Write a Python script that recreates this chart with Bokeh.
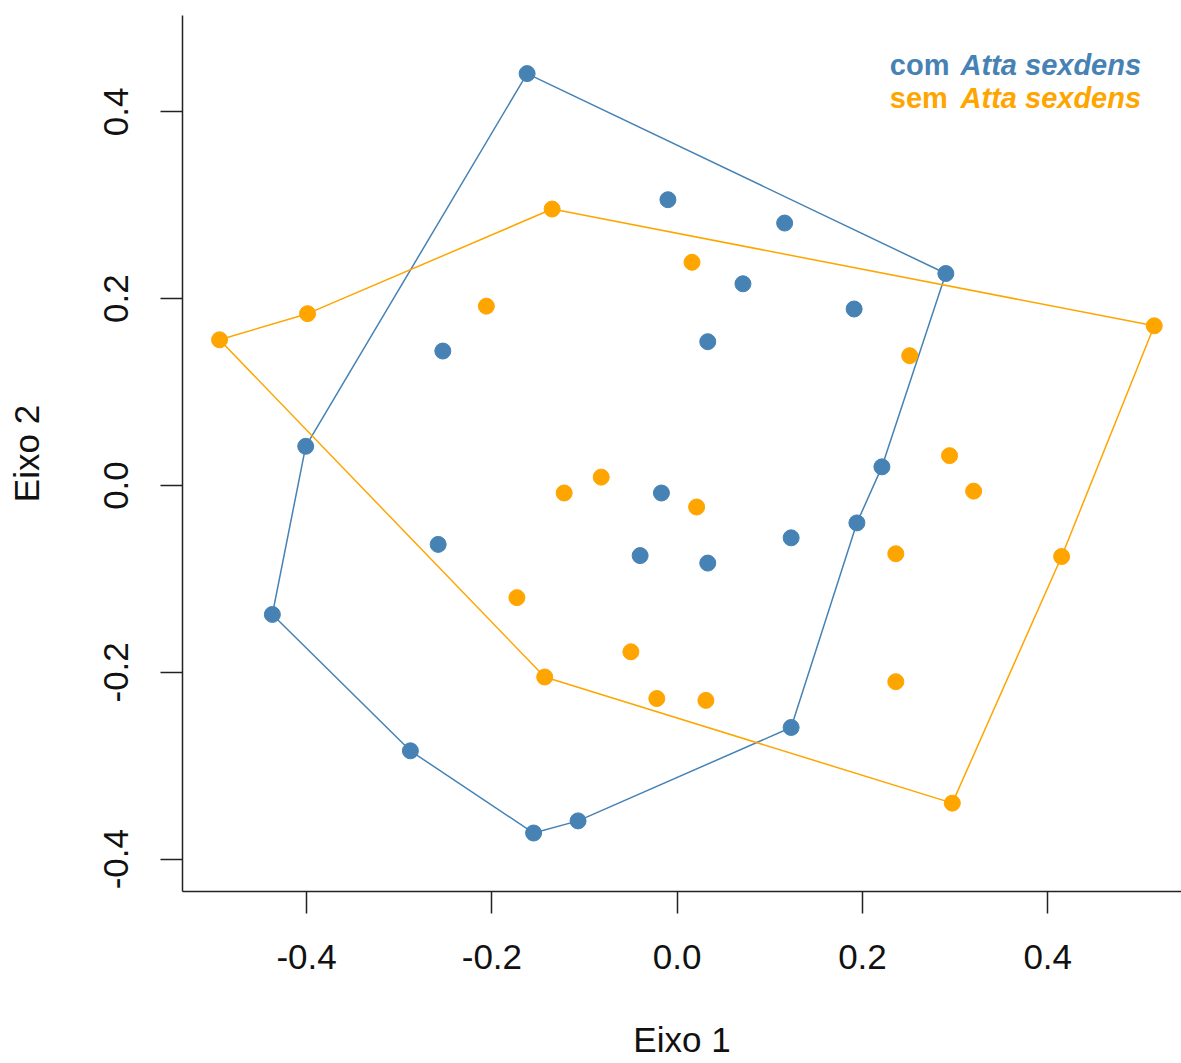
from bokeh.plotting import figure
from bokeh.models import Range1d, FixedTicker, PrintfTickFormatter, Label
from bokeh.embed import file_html
from bokeh.resources import INLINE

# Ordination scores (Eixo 1, Eixo 2) of the plots with Atta sexdens
com_x = [-0.162, -0.010, 0.116, 0.290, 0.071, 0.191, 0.033, -0.253, -0.401, 0.221,
         -0.017, 0.194, -0.258, 0.123, -0.040, 0.033, -0.437, 0.123, -0.288, -0.107,
         -0.155]
com_y = [0.441, 0.306, 0.281, 0.227, 0.216, 0.189, 0.154, 0.144, 0.042, 0.020,
         -0.008, -0.040, -0.063, -0.056, -0.075, -0.083, -0.138, -0.259, -0.284, -0.359,
         -0.372]

# Ordination scores of the plots without Atta sexdens
sem_x = [-0.494, -0.399, -0.206, -0.135, 0.016, 0.515, 0.251, 0.294, 0.320, -0.122,
         -0.082, 0.021, 0.236, 0.415, -0.173, -0.050, -0.143, 0.236, -0.022, 0.031,
         0.297]
sem_y = [0.156, 0.184, 0.192, 0.296, 0.239, 0.171, 0.139, 0.032, -0.006, -0.008,
         0.009, -0.023, -0.073, -0.076, -0.120, -0.178, -0.205, -0.210, -0.228, -0.230,
         -0.340]

# Convex hull vertices of each group (indices into the score lists, in drawing order)
com_hull = [0, 3, 9, 11, 17, 19, 20, 18, 16, 8]
sem_hull = [3, 5, 13, 20, 16, 0, 1]

x_ticks = [-0.4, -0.2, 0.0, 0.2, 0.4]
y_ticks = [-0.4, -0.2, 0.0, 0.2, 0.4]

BLUE = "#4682B4"
ORANGE = "#FFA500"
FONT = "Liberation Sans"

p = figure(width=1181, height=1063,
           x_range=Range1d(-0.534, 0.5444), y_range=Range1d(-0.4346, 0.5032),
           output_backend="svg", toolbar_location=None,
           min_border_left=182, min_border_right=0,
           min_border_top=15, min_border_bottom=172)

p.background_fill_color = "white"
p.border_fill_color = "white"
p.outline_line_color = None
p.grid.visible = False

# Axes styled like base-graphics axes: outward ticks, rotated y labels
for ax in (p.xaxis[0], p.yaxis[0]):
    ax.axis_line_color = "#222222"
    ax.axis_line_width = 1.5
    ax.major_tick_line_color = "#222222"
    ax.major_tick_line_width = 1.5
    ax.major_tick_in = 0
    ax.major_tick_out = 22
    ax.minor_tick_line_color = None
    ax.major_label_text_font = FONT
    ax.major_label_text_font_size = "35px"
    ax.major_label_text_color = "#111111"
    ax.axis_label_text_font = FONT
    ax.axis_label_text_font_size = "35px"
    ax.axis_label_text_font_style = "normal"
    ax.axis_label_text_color = "#111111"
    ax.formatter = PrintfTickFormatter(format="%.1f")

p.xaxis.ticker = FixedTicker(ticks=x_ticks)
p.yaxis.ticker = FixedTicker(ticks=y_ticks)
p.xaxis.axis_label = "Eixo 1"
p.yaxis.axis_label = "Eixo 2"
p.yaxis.major_label_orientation = "parallel"
p.xaxis.major_label_standoff = 31
p.yaxis.major_label_standoff = 32
p.xaxis.axis_label_standoff = 48
p.yaxis.axis_label_standoff = 56


def closed(values, idx):
    return [values[i] for i in idx] + [values[idx[0]]]


# Hull outlines
p.line(closed(com_x, com_hull), closed(com_y, com_hull), line_color=BLUE, line_width=1.5)
p.line(closed(sem_x, sem_hull), closed(sem_y, sem_hull), line_color=ORANGE, line_width=1.5)

# Plot scores
p.scatter(com_x, com_y, size=16, fill_color=BLUE, line_color=BLUE)
p.scatter(sem_x, sem_y, size=16, fill_color=ORANGE, line_color=ORANGE)

# Legend text in the top-right corner: group word upright, species name in italics
legend_rows = [("com", BLUE, 0.4504), ("sem", ORANGE, 0.4144)]
legend_x = 0.2295
species_x = 0.3059
for word, col, yy in legend_rows:
    p.add_layout(Label(x=legend_x, y=yy, text=word, text_color=col, text_font=FONT,
                       text_font_size="29px", text_font_style="bold",
                       text_baseline="alphabetic"))
    p.add_layout(Label(x=species_x, y=yy, text="Atta sexdens", text_color=col,
                       text_font=FONT, text_font_size="29px",
                       text_font_style="bold italic", text_baseline="alphabetic"))

open("out.html", "w").write(file_html(p, INLINE))
